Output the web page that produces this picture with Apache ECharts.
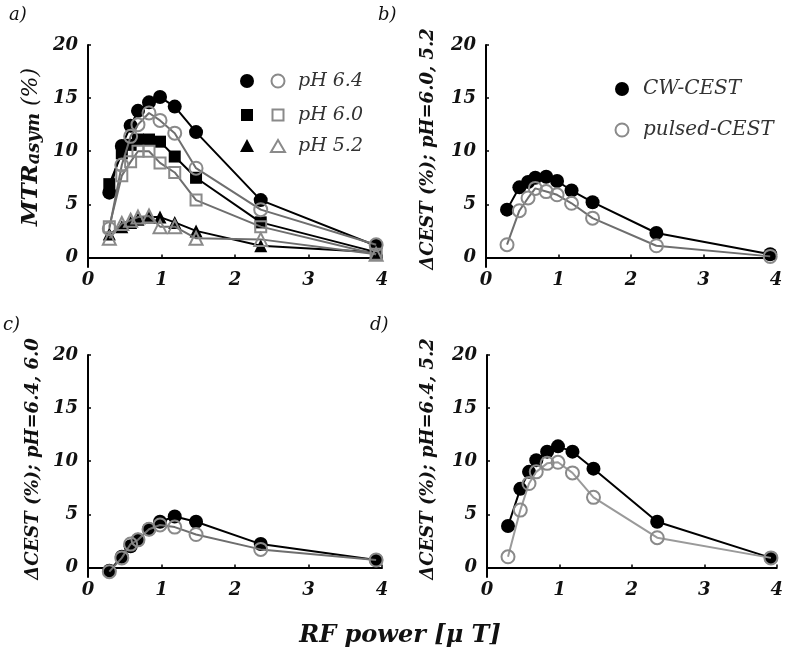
<!DOCTYPE html>
<html>
<head>
<meta charset="utf-8">
<script src="https://cdn.jsdelivr.net/npm/echarts@6/dist/echarts.min.js"></script>
<style>
html,body{margin:0;padding:0;background:#fff;}
#chart{width:786px;height:659px;}
</style>
</head>
<body>
<div id="chart"></div>
<script>
// RF power (µT) — shared x values
const rfPower = [0.29, 0.46, 0.58, 0.68, 0.83, 0.98, 1.18, 1.47, 2.35, 3.92];

// Panel a) MTRasym (%)
const mtr64CW     = [6.1, 10.5, 12.4, 13.8, 14.6, 15.1, 14.2, 11.8, 5.4, 1.1];
const mtr64Pulsed = [2.7, 8.7, 11.4, 12.5, 13.6, 12.9, 11.7, 8.4, 4.5, 1.2];
const mtr60CW     = [6.9, 9.8, 10.6, 11.1, 11.1, 10.9, 9.5, 7.5, 3.3, 0.5];
const mtr60Pulsed = [2.9, 7.7, 9.0, 10.0, 10.0, 8.9, 8.0, 5.4, 2.9, 0.3];
const mtr52CW     = [2.2, 2.9, 3.3, 3.6, 3.8, 3.8, 3.3, 2.5, 1.1, 0.5];
const mtr52Pulsed = [1.8, 3.2, 3.5, 3.8, 3.9, 2.9, 2.9, 1.8, 1.7, 0.3];

// Panel b) ΔCEST pH 6.0 vs 5.2
const dB_CW     = [4.5, 6.6, 7.1, 7.5, 7.6, 7.2, 6.3, 5.2, 2.3, 0.3];
const dB_Pulsed = [1.2, 4.4, 5.6, 6.5, 6.2, 5.9, 5.1, 3.7, 1.1, 0.1];

// Panel c) ΔCEST pH 6.4 vs 6.0
const dC_CW     = [-0.3, 1.0, 2.0, 2.6, 3.6, 4.3, 4.8, 4.3, 2.2, 0.7];
const dC_Pulsed = [-0.4, 0.9, 2.2, 2.6, 3.6, 4.0, 3.8, 3.1, 1.7, 0.7];

// Panel d) ΔCEST pH 6.4 vs 5.2
const dD_CW     = [3.9, 7.4, 9.0, 10.1, 10.9, 11.4, 10.9, 9.3, 4.3, 0.9];
const dD_Pulsed = [1.0, 5.4, 7.9, 9.0, 9.8, 9.9, 8.9, 6.6, 2.8, 0.9];

const yTicks = [0, 5, 10, 15, 20];
const xTicks = [0, 1, 2, 3, 4];

const FONT = '"DejaVu Serif", "Liberation Serif", serif';
const BLACK = '#000';
const GRAY = '#8a8a8a';
const GRAYLINE = '#6e6e6e';

function pair(xs, ys){ return xs.map((x,i)=>[x, ys[i]]); }

const grids = [
  {left: 88,  top: 45, width: 294, height: 222},
  {left: 486, top: 45, width: 290, height: 222},
  {left: 88,  top: 355, width: 294, height: 222},
  {left: 487, top: 355, width: 290, height: 222}
];

const tickLabel = {fontFamily: FONT, fontWeight: 'bold', fontStyle: 'italic', fontSize: 18, color: '#111'};

const xAxes = grids.map((g,i)=>({
  gridIndex: i, type: 'value', min: 0, max: 4, interval: 1,
  axisLine: {lineStyle: {color: BLACK, width: 2}},
  axisTick: {show: true, inside: true, length: 3, lineStyle: {color: BLACK, width: 1.5}},
  splitLine: {show: false},
  axisLabel: Object.assign({margin: 4, customValues: xTicks}, tickLabel)
}));
const yAxes = grids.map((g,i)=>({
  gridIndex: i, type: 'value', min: -0.9, max: 20,
  axisLine: {show: true, lineStyle: {color: BLACK, width: 2}},
  axisTick: {show: true, inside: true, length: 3, customValues: yTicks, lineStyle: {color: BLACK, width: 1.5}},
  splitLine: {show: false},
  axisLabel: Object.assign({margin: 10, customValues: yTicks}, tickLabel)
}));

function filled(name, idx, data, symbol, size){
  return {name, type: 'line', xAxisIndex: idx, yAxisIndex: idx, data,
    symbol, symbolSize: size, showAllSymbol: true,
    lineStyle: {color: BLACK, width: 2}, itemStyle: {color: BLACK},
    emphasis: {disabled: true}, animation: false, z: 2};
}
function open(name, idx, data, symbol, size, lineColor){
  return {name, type: 'line', xAxisIndex: idx, yAxisIndex: idx, data,
    symbol, symbolSize: size, showAllSymbol: true,
    lineStyle: {color: lineColor || GRAYLINE, width: 2},
    itemStyle: {color: 'rgba(255,255,255,0)', borderColor: GRAY, borderWidth: 2},
    emphasis: {disabled: true}, animation: false, z: 3};
}

const series = [
  filled('pH 6.4 CW', 0, pair(rfPower, mtr64CW), 'circle', 14),
  filled('pH 6.0 CW', 0, pair(rfPower, mtr60CW), 'rect', 12),
  filled('pH 5.2 CW', 0, pair(rfPower, mtr52CW), 'triangle', 13),
  open('pH 6.4 pulsed', 0, pair(rfPower, mtr64Pulsed), 'circle', 13),
  open('pH 6.0 pulsed', 0, pair(rfPower, mtr60Pulsed), 'rect', 11),
  open('pH 5.2 pulsed', 0, pair(rfPower, mtr52Pulsed), 'triangle', 13),
  filled('CW-CEST b', 1, pair(rfPower, dB_CW), 'circle', 14),
  open('pulsed-CEST b', 1, pair(rfPower, dB_Pulsed), 'circle', 13),
  filled('CW-CEST c', 2, pair(rfPower, dC_CW), 'circle', 14),
  open('pulsed-CEST c', 2, pair(rfPower, dC_Pulsed), 'circle', 13),
  filled('CW-CEST d', 3, pair(rfPower, dD_CW), 'circle', 14),
  open('pulsed-CEST d', 3, pair(rfPower, dD_Pulsed), 'circle', 13, '#9a9a9a')
];

const italic = {fontFamily: FONT, fontStyle: 'italic'};
const titleStyle = (x, y, text) => ({
  type: 'text', x: x, y: y, rotation: Math.PI/2,
  style: Object.assign({text, fontSize: 18, fontWeight: 'bold', fill: '#111', align: 'center', verticalAlign: 'middle'}, italic)
});

const graphic = [
  // panel labels
  {type:'text', left: 9, top: 6, style: Object.assign({text:'a)', fontSize: 18, fill:'#111'}, italic)},
  {type:'text', left: 378, top: 6, style: Object.assign({text:'b)', fontSize: 18, fill:'#111'}, italic)},
  {type:'text', left: 3, top: 316, style: Object.assign({text:'c)', fontSize: 18, fill:'#111'}, italic)},
  {type:'text', left: 370, top: 316, style: Object.assign({text:'d)', fontSize: 18, fill:'#111'}, italic)},
  // y-axis titles
  {type:'text', x: 31, y: 147, rotation: Math.PI/2,
    style: {text: '{a|MTR}{b|asym}{c| (%)}', align:'center', verticalAlign:'middle',
      rich: {
        a: Object.assign({fontSize: 23, fontWeight:'bold', fill:'#111'}, italic),
        b: Object.assign({fontSize: 18, fontWeight:'bold', fill:'#111', padding:[6,0,0,0]}, italic),
        c: Object.assign({fontSize: 22, fill:'#111'}, italic)
      }}},
  titleStyle(428, 149, 'ΔCEST (%); pH=6.0, 5.2'),
  titleStyle(33, 459, 'ΔCEST (%); pH=6.4, 6.0'),
  titleStyle(428, 459, 'ΔCEST (%); pH=6.4, 5.2'),
  // x-axis title
  {type:'text', x: 400, y: 636, style: Object.assign({text:'RF power [μ T]', fontSize: 24, fontWeight:'bold', fill:'#111', align:'center', verticalAlign:'middle'}, italic)},
  // panel a legend
  {type:'circle', shape:{cx:247, cy:81, r:7}, style:{fill:BLACK}},
  {type:'circle', shape:{cx:278, cy:81, r:6.5}, style:{fill:'none', stroke:GRAY, lineWidth:2}},
  {type:'text', x: 298, y: 81, style: Object.assign({text:'pH 6.4', fontSize: 19, fill:'#333', verticalAlign:'middle'}, italic)},
  {type:'rect', shape:{x:241, y:109, width:12, height:12}, style:{fill:BLACK}},
  {type:'rect', shape:{x:272.5, y:109.5, width:11, height:11}, style:{fill:'none', stroke:GRAY, lineWidth:2}},
  {type:'text', x: 298, y: 115, style: Object.assign({text:'pH 6.0', fontSize: 19, fill:'#333', verticalAlign:'middle'}, italic)},
  {type:'polygon', shape:{points:[[247,139],[254,152],[240,152]]}, style:{fill:BLACK}},
  {type:'polygon', shape:{points:[[278,140],[285,152],[271,152]]}, style:{fill:'none', stroke:GRAY, lineWidth:2}},
  {type:'text', x: 298, y: 146, style: Object.assign({text:'pH 5.2', fontSize: 19, fill:'#333', verticalAlign:'middle'}, italic)},
  // panel b legend
  {type:'circle', shape:{cx:622, cy:89, r:7}, style:{fill:BLACK}},
  {type:'text', x: 643, y: 89, style: Object.assign({text:'CW-CEST', fontSize: 20, fill:'#333', verticalAlign:'middle'}, italic)},
  {type:'circle', shape:{cx:622, cy:130, r:6.5}, style:{fill:'none', stroke:GRAY, lineWidth:2}},
  {type:'text', x: 643, y: 130, style: Object.assign({text:'pulsed-CEST', fontSize: 20, fill:'#333', verticalAlign:'middle'}, italic)}
];

const chart = echarts.init(document.getElementById('chart'), null, {renderer: 'canvas'});
chart.setOption({
  backgroundColor: '#fff',
  animation: false,
  grid: grids,
  xAxis: xAxes,
  yAxis: yAxes,
  series: series,
  graphic: graphic
});
</script>
</body>
</html>
